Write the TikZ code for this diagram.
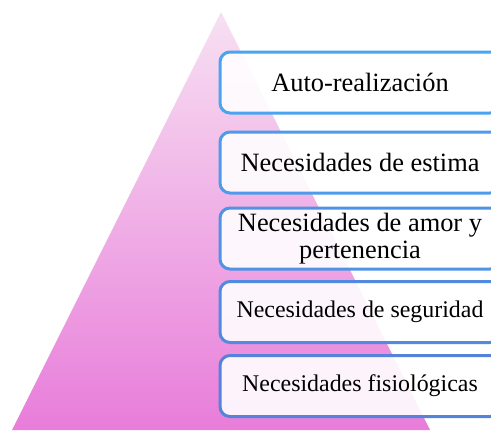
\documentclass[tikz,border=0pt]{standalone}
\usepackage{fontspec}
\setmainfont{Liberation Serif}
\usetikzlibrary{positioning}

\definecolor{rosaclaro}{HTML}{F7E0F2}
\definecolor{rosafuerte}{HTML}{E87DDA}
\definecolor{bordesup}{HTML}{4AA4EF}
\definecolor{bordeinf}{HTML}{5582DA}

\tikzset{nivel/.style={draw,line width=1.5pt,rounded corners=5pt,fill=white,fill opacity=0.9,text opacity=1,
  minimum width=140pt,minimum height=30.5pt,inner sep=0pt,align=center}}

\begin{document}
\begin{tikzpicture}[x=0.5pt,y=-0.5pt]
\clip (0,0) rectangle (491,430);
\useasboundingbox (0,0) rectangle (491,430);
% piramide
\shade[top color=rosaclaro,bottom color=rosafuerte] (221,12) -- (430,430) -- (12,430) -- cycle;
% niveles
\foreach \ypos/\lbl/\fs [count=\n, evaluate=\n as \pmix using {(5-\n)*25}] in
  {82.5/Auto-realización/13.2,
   162.5/Necesidades de estima/13.2,
   238.5/{Necesidades de amor y\\pertenencia}/13.2,
   312/Necesidades de seguridad/11.95,
   386/Necesidades fisiológicas/11.95}
  \node[nivel,draw=bordesup!\pmix!bordeinf,font=\fontsize{\fs}{13.6}\selectfont] (N\n) at (360,\ypos) {\lbl};
\end{tikzpicture}
\end{document}
